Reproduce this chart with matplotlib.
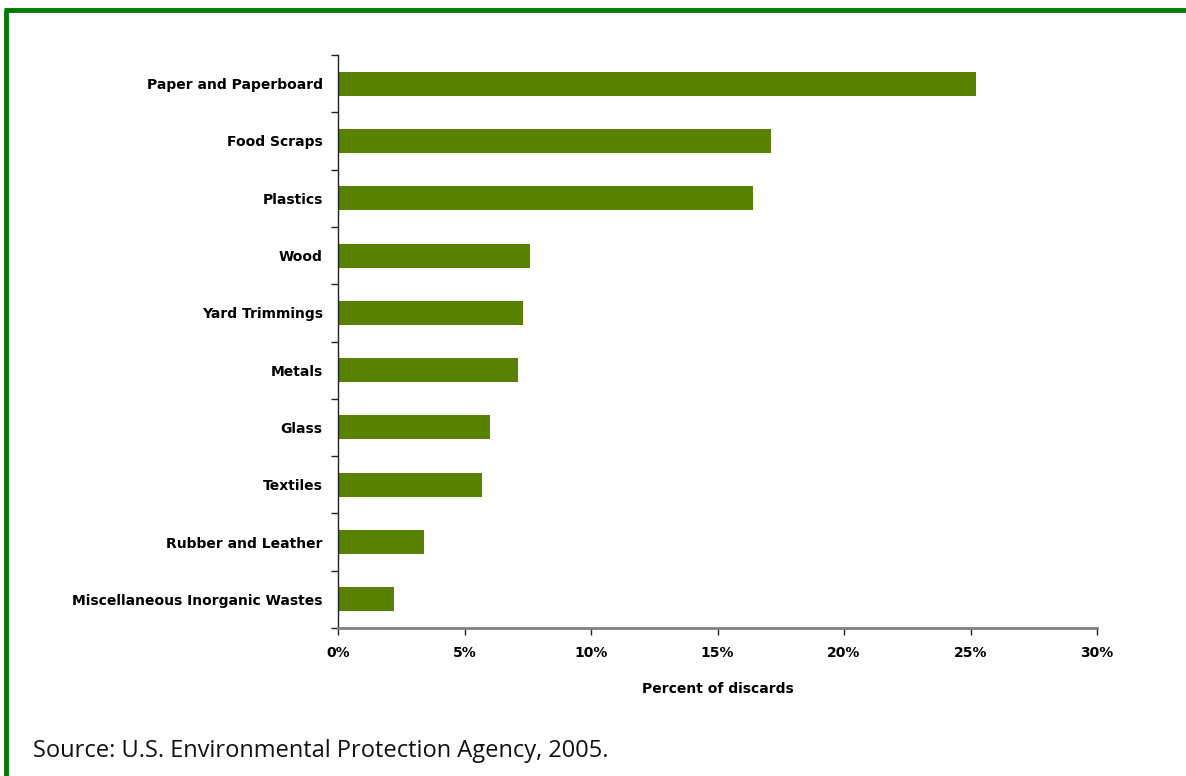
import matplotlib
matplotlib.use('Agg')
import matplotlib.pyplot as plt
from matplotlib.lines import Line2D
from matplotlib.ticker import FuncFormatter

# materials, top to bottom
categories = ["Paper and Paperboard", "Food Scraps", "Plastics", "Wood",
              "Yard Trimmings", "Metals", "Glass", "Textiles",
              "Rubber and Leather", "Miscellaneous Inorganic Wastes"]
percent = [25.2, 17.1, 16.4, 7.6, 7.3, 7.1, 6.0, 5.7, 3.4, 2.2]
xticks = [0, 5, 10, 15, 20, 25, 30]

bar_color = '#5a8000'
frame_green = '#007a00'

fig = plt.figure(figsize=(11.86, 7.76), dpi=100)
ax = fig.add_axes([338/1186, 1 - 628/776, (1097-338)/1186, (628-55)/776])

n = len(categories)
ypos = [n - 1 - i for i in range(n)]
ax.barh(ypos, percent, height=0.42, color=bar_color, zorder=2)

ax.set_xlim(0, 30)
ax.set_ylim(-0.5, n - 0.5)
ax.set_xticks(xticks)
ax.xaxis.set_major_formatter(FuncFormatter(lambda v, p: '{0}%'.format(int(v))))

# category labels centred on bars, ticks on the boundaries between them
ax.set_yticks(ypos)
ax.set_yticklabels(categories)
ax.tick_params(axis='y', which='major', length=0, pad=11)
ax.set_yticks([i - 0.5 for i in range(n + 1)], minor=True)
ax.tick_params(axis='y', which='minor', length=5, width=1, color='#222222')
ax.tick_params(axis='x', length=5, width=1, color='#222222', pad=8)

for lab in ax.get_yticklabels() + ax.get_xticklabels():
    lab.set_fontweight('bold')
    lab.set_fontsize(10)

ax.set_xlabel('Percent of discards', fontsize=10, fontweight='bold', labelpad=16)

ax.spines['top'].set_visible(False)
ax.spines['right'].set_visible(False)
ax.spines['left'].set_color('#222222')
ax.spines['left'].set_linewidth(1)
ax.spines['bottom'].set_color('#808080')
ax.spines['bottom'].set_linewidth(2)

# green frame along top and left edge
fig.add_artist(Line2D([6/1186, 6/1186], [0, 1 - 10/776], transform=fig.transFigure,
                      color=frame_green, linewidth=3.5, solid_capstyle='butt'))
fig.add_artist(Line2D([4/1186, 1], [1 - 10/776, 1 - 10/776], transform=fig.transFigure,
                      color=frame_green, linewidth=3.5, solid_capstyle='butt'))

fig.text(33/1186, 1 - 751/776, 'Source: U.S. Environmental Protection Agency, 2005.',
         fontsize=17, family='Open Sans', va='center', ha='left', color='#111111')

plt.savefig('out.png', dpi=100)
plt.close()
